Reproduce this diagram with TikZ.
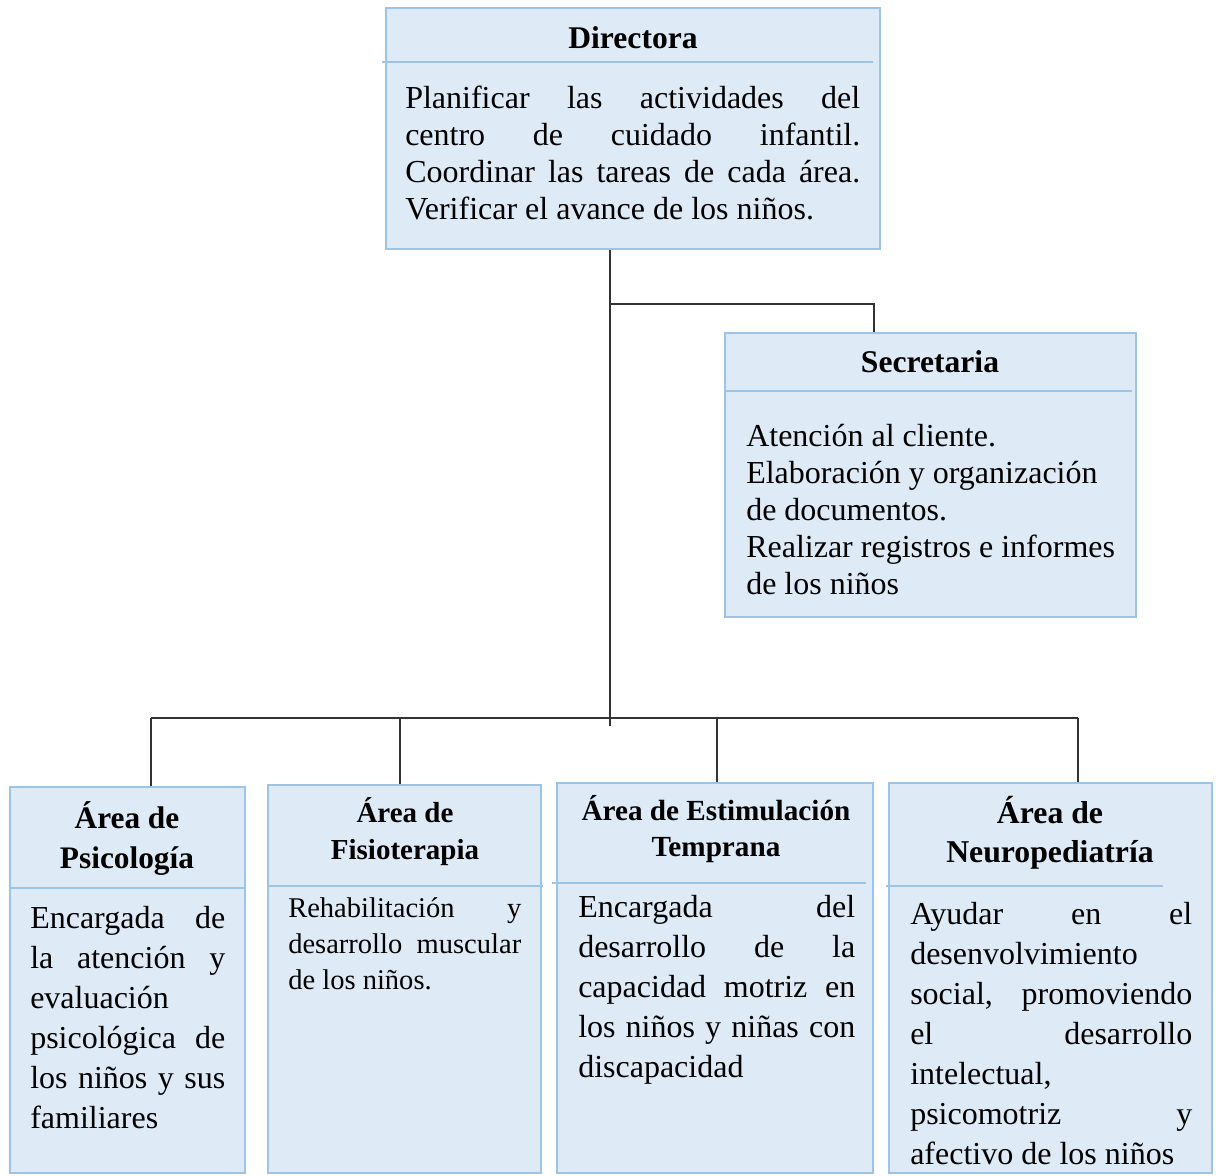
\documentclass[tikz,border=0pt]{standalone}
\usepackage{fontspec}
\setmainfont{Liberation Serif}
\usetikzlibrary{fit}

\definecolor{boxfill}{HTML}{DEEAF6}
\definecolor{boxline}{HTML}{9DC3E6}
\definecolor{wire}{HTML}{333333}

\newcommand\orgsize[2]{\fontsize{#1}{#2}\selectfont\tolerance=9999\hyphenpenalty=10000\relax}

\tikzset{
  box/.style={draw=boxline, fill=boxfill, line width=1pt, inner sep=0pt},
  divider/.style={draw=boxline, line width=1.5pt},
  link/.style={draw=wire, line width=1pt},
  head/.style={inner sep=0pt, anchor=base, align=center},
  body/.style={inner sep=0pt, anchor=base west, align=justify, text width=#1}
}

\begin{document}
\begin{tikzpicture}[x=0.75pt,y=-0.75pt]
\useasboundingbox (0,0) rectangle (1216,1175);

% boxes
\node[box, fit={(386,8) (880,249)}] (dir) {};
\node[box, fit={(725,333) (1136,617)}] (sec) {};
\node[box, fit={(10,787) (245,1173)}] (psi) {};
\node[box, fit={(268,785) (541,1173)}] (fis) {};
\node[box, fit={(557,783) (873,1173)}] (est) {};
\node[box, fit={(889,783) (1212,1173)}] (neu) {};

% header rules
\draw[divider] (382,62) -- (873,62);
\draw[divider] (725,391) -- (1132,391);
\draw[divider] (10,888) -- (245,888);
\draw[divider] (268,886) -- (543,886);
\draw[divider] (552,883) -- (866,883);
\draw[divider] (886,886) -- (1163,886);

% titles (base = last line)
\node[head, font=\bfseries\orgsize{23.7pt}{28pt}] (dirT) at (633,48) {Directora};
\node[head, font=\bfseries\orgsize{23.7pt}{28pt}] (secT) at (930,372) {Secretaria};
\node[head, font=\bfseries\orgsize{23.5pt}{30pt}] (psiT) at (127,868) {Área de\\Psicología};
\node[head, font=\bfseries\orgsize{21.75pt}{27.75pt}] (fisT) at (405,859) {Área de\\Fisioterapia};
\node[head, font=\bfseries\orgsize{21.9pt}{27pt}] (estT) at (716,856) {Área de Estimulación\\Temprana};
\node[head, font=\bfseries\orgsize{23.8pt}{29.25pt}] (neuT) at (1050,862) {Área de\\Neuropediatría};

% texts
\node[body=341.25pt, font=\orgsize{24pt}{27.75pt}] (dirB) at (405,108)
  {Planificar las actividades del\linebreak centro de cuidado infantil.\linebreak Coordinar las tareas de cada área.\linebreak Verificar el avance de los niños.};
\node[body=290pt, align=flush left, font=\orgsize{24pt}{27.75pt}] (secB) at (746,446)
  {Atención al cliente.\\ Elaboración y organización\\ de documentos.\\ Realizar registros e informes\\ de los niños};
\node[body=146.25pt, font=\orgsize{24pt}{30pt}] (psiB) at (30,928)
  {Encargada de\linebreak la atención y\linebreak evaluación\linebreak psicológica de\linebreak los niños y sus\linebreak familiares};
\node[body=174.75pt, font=\orgsize{21.4pt}{27pt}] (fisB) at (288,917)
  {Rehabilitación y\linebreak desarrollo muscular\linebreak de los niños.};
\node[body=207.75pt, font=\orgsize{24pt}{30pt}] (estB) at (578,917)
  {Encargada del\linebreak desarrollo de la\linebreak capacidad motriz en\linebreak los niños y niñas con\linebreak discapacidad};
\node[body=211.5pt, font=\orgsize{24pt}{30pt}] (neuB) at (910,924)
  {Ayudar en el\linebreak desenvolvimiento\linebreak social, promoviendo\linebreak el desarrollo\linebreak intelectual,\linebreak psicomotriz y\linebreak afectivo de los niños};

% connectors
\coordinate (hub) at (610,718);
\coordinate (hubEnd) at (610,726);
\coordinate (secJ) at (610,304);
\coordinate (secK) at (874,304);
\draw[link] (dir.south -| hub) -- (hubEnd);
\draw[link] (secJ) -- (secK) -- (secK |- sec.north);

\foreach \x/\b in {151/psi,400/fis,717/est,1078/neu}{
  \coordinate (drop\b) at (\x,718);
  \draw[link] (drop\b) -- (drop\b |- \b.north);
}
\draw[link] (droppsi) -- (dropneu);
\end{tikzpicture}
\end{document}
